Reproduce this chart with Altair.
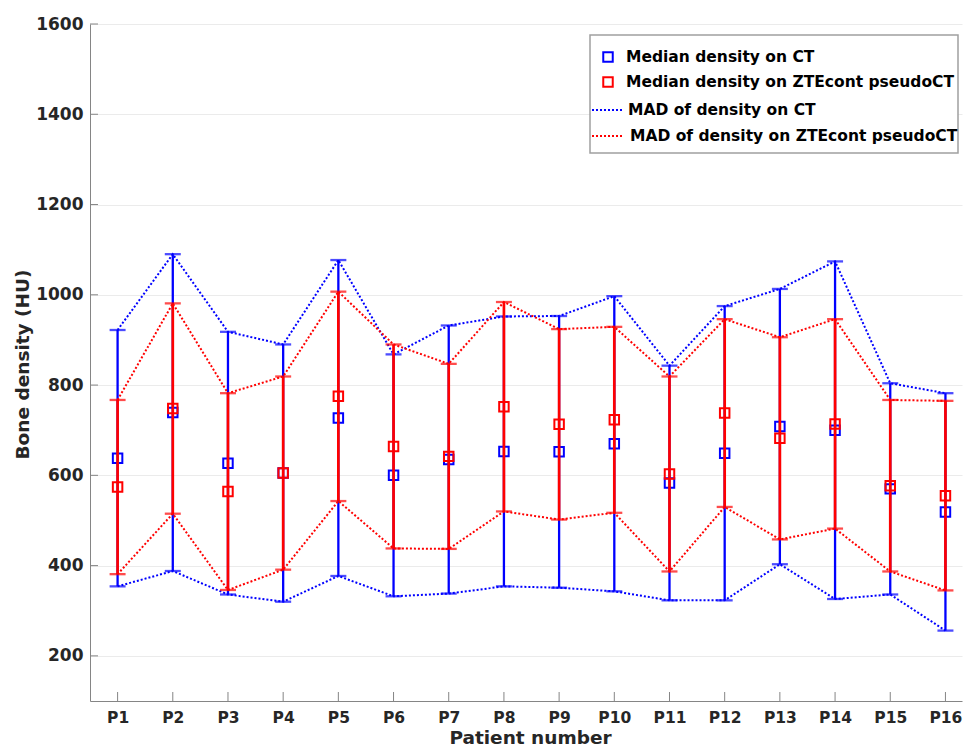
import altair as alt
import pandas as pd

# ---------------- data ----------------
patients = ["P1", "P2", "P3", "P4", "P5", "P6", "P7", "P8",
            "P9", "P10", "P11", "P12", "P13", "P14", "P15", "P16"]
patient_idx = [1, 2, 3, 4, 5, 6, 7, 8, 9, 10, 11, 12, 13, 14, 15, 16]

ct_median = [638, 739, 627, 605, 727, 600, 635, 653, 652, 670, 583, 649, 708, 700, 570, 519]
ct_mad = [284, 351, 291, 285, 350, 268, 297, 299, 301, 327, 260, 326, 305, 374, 234, 263]

zte_median = [574, 748, 564, 605, 775, 664, 642, 752, 713, 723, 603, 738, 682, 714, 577, 555]
zte_mad = [193, 233, 218, 214, 232, 226, 205, 232, 211, 206, 216, 208, 224, 232, 190, 210]

y_ticks = [200, 400, 600, 800, 1000, 1200, 1400, 1600]

legend_labels = ["Median density on CT", "Median density on ZTEcont pseudoCT",
                 "MAD of density on CT", "MAD of density on ZTEcont pseudoCT"]

BLUE = "#0000ff"
RED = "#ff0000"
AXIS_GREY = "#858585"
TEXT = "#262626"
FONT = "DejaVu Sans"

W, H = 872, 677


def frame(med, mad):
    return pd.DataFrame({
        "idx": patient_idx,
        "patient": patients,
        "median": med,
        "lower": [m - d for m, d in zip(med, mad)],
        "upper": [m + d for m, d in zip(med, mad)],
    })


ct_df = frame(ct_median, ct_mad)
zte_df = frame(zte_median, zte_mad)

label_expr = "[" + ",".join("'" + p + "'" for p in patients) + "][datum.value - 1]"

xscale = alt.Scale(domain=[0.5, 16.3], nice=False, zero=False)
yscale = alt.Scale(domain=[100, 1600], nice=False, zero=False)

xaxis = alt.Axis(
    values=patient_idx, labelExpr=label_expr, grid=False, ticks=False,
    domainColor=AXIS_GREY, domainWidth=1,
    labelFont=FONT, labelFontWeight="bold", labelFontSize=15.5, labelColor=TEXT,
    labelPadding=9, labelAngle=0,
    title="Patient number", titleFont=FONT, titleFontWeight="bold",
    titleFontSize=18.5, titleColor=TEXT, titleBaseline="middle",
    titleY=36, titleX=440,
)
yaxis = alt.Axis(
    values=y_ticks, format="d", grid=True, gridColor="#ebebeb", gridWidth=1, ticks=False,
    domainColor=AXIS_GREY, domainWidth=1,
    labelFont=FONT, labelFontWeight="bold", labelFontSize=17, labelColor=TEXT,
    labelPadding=7,
    title="Bone density (HU)", titleFont=FONT, titleFontWeight="bold",
    titleFontSize=18.5, titleColor=TEXT, titleAngle=-90,
    titleBaseline="middle", titleAlign="center", titleX=-68, titleY=340,
)


def X(field="idx"):
    return alt.X(f"{field}:Q", scale=xscale, axis=xaxis)


def Y(field):
    return alt.Y(f"{field}:Q", scale=yscale, axis=yaxis)


def series_layers(df, color, bar_w):
    base = alt.Chart(df)
    bar = base.mark_rule(color=color, strokeWidth=bar_w).encode(
        x=X(), y=Y("lower"), y2="upper:Q")
    cap_hi = base.mark_tick(color=color, orient="horizontal", size=16, thickness=2.3).encode(
        x=X(), y=Y("upper"))
    cap_lo = base.mark_tick(color=color, orient="horizontal", size=16, thickness=2.3).encode(
        x=X(), y=Y("lower"))
    line_hi = base.mark_line(color=color, strokeWidth=2, strokeDash=[2, 2]).encode(
        x=X(), y=Y("upper"))
    line_lo = base.mark_line(color=color, strokeWidth=2, strokeDash=[2, 2]).encode(
        x=X(), y=Y("lower"))
    pts = base.mark_point(shape="square", size=90, strokeWidth=2, filled=False,
                          color=color, opacity=1).encode(
        x=X(), y=Y("median"))
    return [bar, cap_hi, cap_lo, line_hi, line_lo, pts]


# inward ticks
ytick_layer = alt.Chart(pd.DataFrame({"v": y_ticks})).mark_rule(
    color=AXIS_GREY, strokeWidth=1).encode(
    y=Y("v"), x=alt.value(0), x2=alt.value(8))
xtick_layer = alt.Chart(pd.DataFrame({"idx": patient_idx})).mark_rule(
    color=AXIS_GREY, strokeWidth=1).encode(
    x=X(), y=alt.value(H), y2=alt.value(H - 9))

# manual legend
one = pd.DataFrame({"a": [0]})
leg_box = alt.Chart(one).mark_rect(fill="white", stroke="#a0a0a0", strokeWidth=1.5).encode(
    x=alt.value(500), x2=alt.value(868), y=alt.value(11), y2=alt.value(129))


def leg_square(color, y):
    return alt.Chart(one).mark_point(shape="square", size=90, strokeWidth=2, filled=False,
                                     color=color, opacity=1).encode(
        x=alt.value(518), y=alt.value(y))


def leg_line(color, y):
    return alt.Chart(one).mark_rule(color=color, strokeWidth=2, strokeDash=[2, 2]).encode(
        x=alt.value(502), x2=alt.value(533), y=alt.value(y))


def leg_text(label, x, y):
    return alt.Chart(one).mark_text(text=label, font=FONT, fontWeight="bold", fontSize=15.5,
                                    color="black", align="left", baseline="middle").encode(
        x=alt.value(x), y=alt.value(y))


legend_layers = [
    leg_box,
    leg_square(BLUE, 33), leg_text(legend_labels[0], 536, 33),
    leg_square(RED, 58), leg_text(legend_labels[1], 536, 58),
    leg_line(BLUE, 86), leg_text(legend_labels[2], 538, 86),
    leg_line(RED, 112), leg_text(legend_labels[3], 540, 112),
]

chart = alt.layer(
    ytick_layer, xtick_layer,
    *series_layers(ct_df, BLUE, 2.3),
    *series_layers(zte_df, RED, 2.7),
    *legend_layers,
).properties(
    width=W, height=H,
    autosize=alt.AutoSizeParams(type="none"),
    padding={"left": 90, "top": 24, "right": 1, "bottom": 46},
    background="white",
).configure_view(stroke=None)

chart.save("out.html", embed_options={"renderer": "svg", "actions": False})
